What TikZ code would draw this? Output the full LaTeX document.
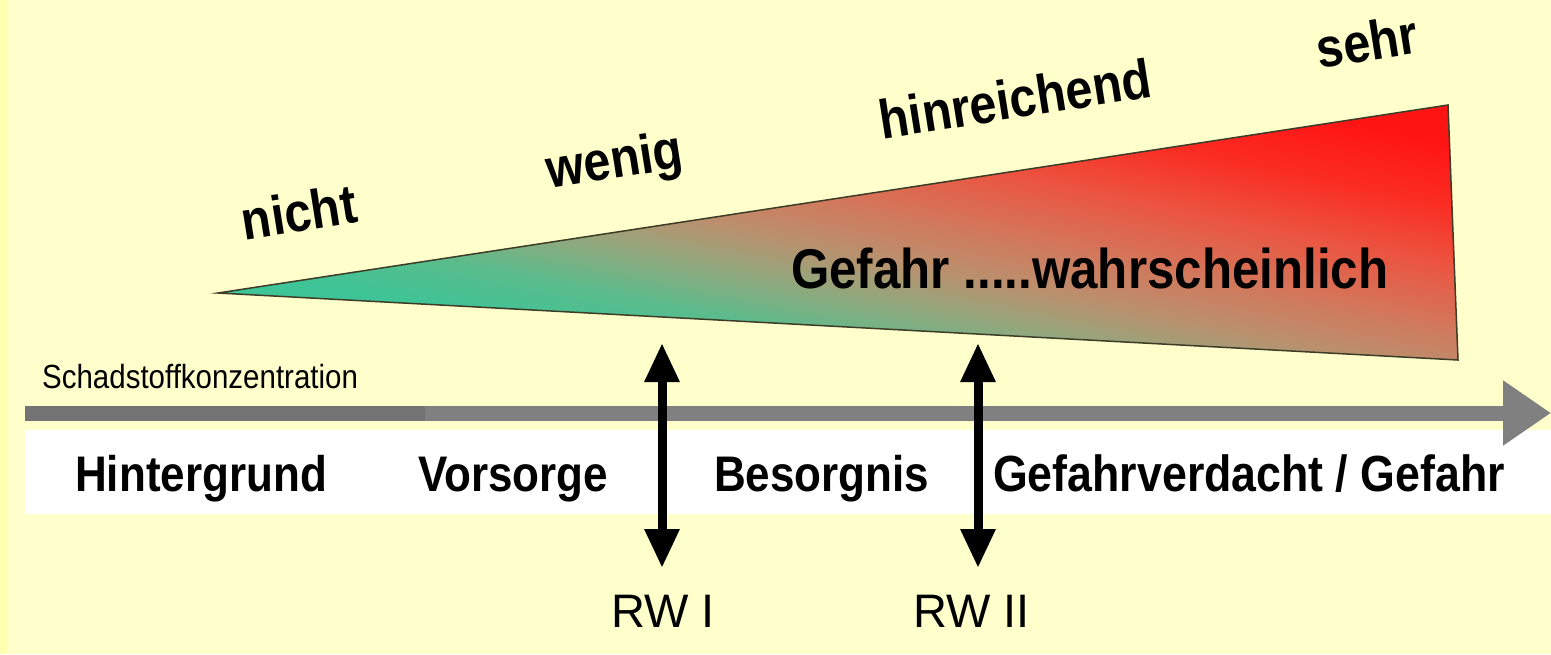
\documentclass[tikz,border=0pt]{standalone}
\usepackage{fontspec}
\setmainfont{Liberation Sans}
\newfontfamily\arialn{Liberation Sans}[FakeStretch=0.88]
\usetikzlibrary{arrows.meta}

\definecolor{bg}{RGB}{255,255,204}
\definecolor{bgstrip}{RGB}{255,255,175}
\definecolor{axisgray}{RGB}{128,128,128}
\definecolor{axisdark}{RGB}{115,115,115}
\definecolor{outline}{RGB}{60,60,40}
\definecolor{sA}{RGB}{60,198,150}
\definecolor{sB}{RGB}{62,196,150}
\definecolor{sC}{RGB}{90,188,140}
\definecolor{sD}{RGB}{145,168,125}
\definecolor{sE}{RGB}{185,145,110}
\definecolor{sF}{RGB}{210,120,92}
\definecolor{sG}{RGB}{235,85,65}
\definecolor{sH}{RGB}{250,45,35}
\definecolor{sI}{RGB}{255,20,20}

\pgfdeclarehorizontalshading{riskshade}{100bp}{color(0bp)=(sA); color(31.6bp)=(sB); color(37.3bp)=(sC); color(42.9bp)=(sD); color(47.9bp)=(sE); color(53.5bp)=(sF); color(60.6bp)=(sG); color(67.7bp)=(sH); color(75bp)=(sI); color(100bp)=(sI)}

\tikzset{
  toplabel/.style={anchor=base, inner sep=0pt, rotate=9, font=\arialn\bfseries\fontsize{55}{60}\selectfont},
  bandlabel/.style={anchor=base west, inner sep=0pt, font=\arialn\bfseries\fontsize{50}{60}\selectfont},
  rwlabel/.style={anchor=base west, inner sep=0pt, font=\fontsize{47}{56}\selectfont},
  rwarrow/.style={line width=9pt, {Triangle[width=33pt,length=39pt]}-{Triangle[width=33pt,length=39pt]}},
}

\begin{document}
\begin{tikzpicture}[x=1pt,y=-1pt]
\useasboundingbox (0,0) rectangle (1551,654);
\fill[bg] (0,0) rectangle (1551,654);
\fill[bgstrip] (0,0) rectangle (7,654);

% white band
\fill[white] (25,430) rectangle (1551,514);

% triangle
\coordinate (tipL) at (218,293);
\coordinate (cornTR) at (1448,105);
\coordinate (cornBR) at (1458,360);
\shade[shading=riskshade, shading angle=78.4] (tipL) -- (cornTR) -- (cornBR) -- cycle;
\draw[outline, line width=1.5pt, line join=miter] (tipL) -- (cornTR) -- (cornBR) -- cycle;

% axis
\coordinate (axL) at (25,413);
\coordinate (axM) at (425,413);
\coordinate (axR) at (1551,413);
\draw[axisgray, line width=15pt, -{Triangle[width=62pt,length=48pt]}] (axL) -- (axR);
\draw[axisdark, line width=15pt] (axL) -- (axM);

\node[anchor=base west, inner sep=0pt, font=\arialn\fontsize{33.5}{40}\selectfont] (conc) at (42,388) {Schadstoffkonzentration};

% top labels
\node[toplabel] (nicht) at (302,231) {nicht};
\node[toplabel] (wenig) at (617,178) {wenig};
\node[toplabel] (hinr) at (1018,118) {hinreichend};
\node[toplabel] (sehr) at (1370,61) {sehr};

\node[anchor=base west, inner sep=0pt, font=\arialn\bfseries\fontsize{56}{60}\selectfont] (gef) at (791,288) {Gefahr .....wahrscheinlich};

% band labels
\node[bandlabel] (hint) at (75,491) {Hintergrund};
\node[bandlabel] (vors) at (418,491) {Vorsorge};
\node[bandlabel] (beso) at (714,491) {Besorgnis};
\node[bandlabel, font=\arialn\bfseries\fontsize{50.8}{60}\selectfont] (gefv) at (993,491) {Gefahrverdacht / Gefahr};

% RW arrows
\coordinate (r1t) at (662,343);
\coordinate (r1b) at (662,568);
\coordinate (r2t) at (978,343);
\coordinate (r2b) at (978,568);
\draw[rwarrow] (r1t) -- (r1b);
\draw[rwarrow] (r2t) -- (r2b);
\node[rwlabel] (rw1) at (611,627) {RW I};
\node[rwlabel] (rw2) at (913,627) {RW II};
\end{tikzpicture}
\end{document}
